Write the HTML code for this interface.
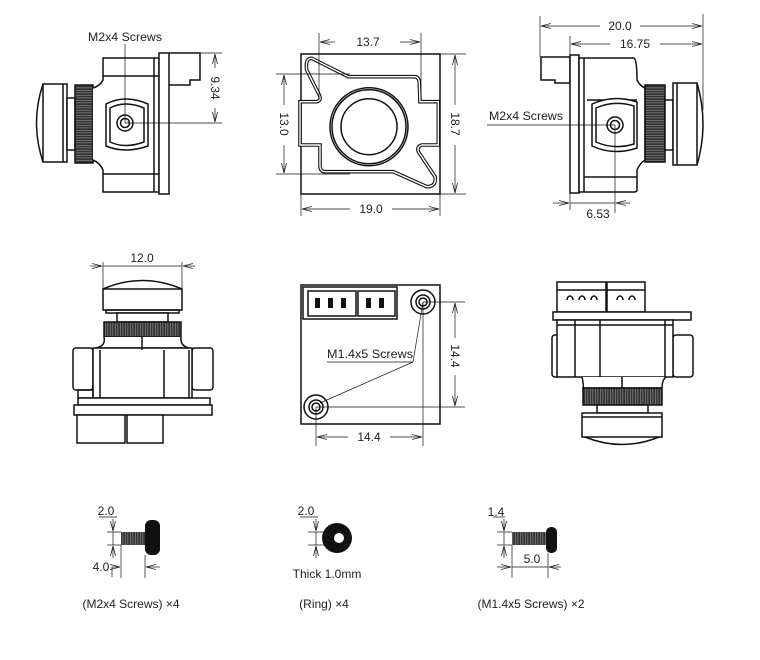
<!DOCTYPE html>
<html><head><meta charset="utf-8"><style>
html,body{margin:0;padding:0;background:#fff}
svg{display:block}
text{font-family:"Liberation Sans",sans-serif;font-size:12px;fill:#222}
</style></head><body>
<svg width="760" height="660" viewBox="0 0 760 660" xmlns="http://www.w3.org/2000/svg">
<defs>
<marker id="a" markerWidth="10" markerHeight="6" refX="10" refY="3" orient="auto" markerUnits="userSpaceOnUse"><path d="M0,0.5 L10,3 L0,5.5" fill="none" stroke="#222" stroke-width="0.8"/></marker>
<pattern id="kv" width="2.5" height="10" patternUnits="userSpaceOnUse"><rect width="2.5" height="10" fill="#333"/><rect width="0.7" height="10" fill="#888"/></pattern>
<pattern id="kh" width="10" height="2.5" patternUnits="userSpaceOnUse"><rect width="10" height="2.5" fill="#333"/><rect width="10" height="0.7" fill="#888"/></pattern>
</defs>
<g fill="none" stroke="#111" stroke-width="1.5">

<!-- ===== Top-left side view ===== -->
<path d="M43,84 Q30,123 43,162" />
<rect x="43" y="84" width="24" height="78" fill="#fff"/>
<line x1="63" y1="84" x2="63" y2="162"/>
<rect x="67" y="98" width="8" height="52" fill="#fff"/>
<rect x="75" y="85" width="18" height="78" fill="url(#kh)"/>
<path d="M93,88 Q100,86 103,80 L103,58 L159,58 L159,192 L103,192 L103,170 Q100,163 93,160" fill="#fff"/>
<line x1="103" y1="76" x2="159" y2="76"/><line x1="103" y1="174" x2="159" y2="174"/>
<line x1="154" y1="58" x2="154" y2="192"/>
<path d="M106,104 Q125,94 148,104 L148,146 Q125,154 106,146 Z" fill="#fff"/>
<path d="M110,108 Q125,100 144,108 L144,142 Q125,149 110,142 Z"/>
<rect x="159" y="53" width="10" height="141" fill="#fff"/>
<path d="M169,53 L200,53 L200,80 L190,80 L190,85 L169,85"/>
<circle cx="125" cy="123" r="8"/><circle cx="125" cy="123" r="4.5"/>
<g stroke-width="0.7">
<line x1="125" y1="44" x2="125" y2="123"/>
<line x1="200" y1="53" x2="222" y2="53"/><line x1="125" y1="123" x2="222" y2="123"/>
<line x1="215" y1="68" x2="215" y2="54" marker-end="url(#a)"/><line x1="215" y1="108" x2="215" y2="122" marker-end="url(#a)"/>
</g>

<!-- ===== Top-middle front ===== -->
<rect x="301" y="54" width="139" height="140"/>
<path d="M311.7,58.3 L348.3,76.7 L415,76.7 Q419.3,77.3 419.3,83.3 L420,101.7 L438.3,101.7 L438.3,145 L421.7,145 Q416.7,146.7 418.3,151.7 L435,176.7 Q436.7,186.7 426.7,186.7 L393.3,171.7 L325,171.7 Q320.7,171.7 320,166.7 L320,145 L300,145 L300,101.7 L316.7,101.7 Q321.7,100.7 319.3,95 L306.7,70 Q305,58.3 311.7,58.3 Z" stroke-width="3.6"/>
<path d="M311.7,58.3 L348.3,76.7 L415,76.7 Q419.3,77.3 419.3,83.3 L420,101.7 L438.3,101.7 L438.3,145 L421.7,145 Q416.7,146.7 418.3,151.7 L435,176.7 Q436.7,186.7 426.7,186.7 L393.3,171.7 L325,171.7 Q320.7,171.7 320,166.7 L320,145 L300,145 L300,101.7 L316.7,101.7 Q321.7,100.7 319.3,95 L306.7,70 Q305,58.3 311.7,58.3 Z" stroke="#fff" stroke-width="1.4"/>
<circle cx="369" cy="126.7" r="39"/><circle cx="369" cy="126.7" r="37"/><circle cx="369" cy="126.7" r="28"/>
<g stroke-width="0.7">
<line x1="319" y1="33" x2="319" y2="100"/><line x1="421" y1="33" x2="421" y2="100"/>
<line x1="335" y1="42" x2="320" y2="42" marker-end="url(#a)"/><line x1="400" y1="42" x2="420" y2="42" marker-end="url(#a)"/>
<line x1="276" y1="74" x2="350" y2="74"/><line x1="276" y1="174" x2="350" y2="174"/>
<line x1="284" y1="105" x2="284" y2="75" marker-end="url(#a)"/><line x1="284" y1="145" x2="284" y2="173" marker-end="url(#a)"/>
<line x1="440" y1="54" x2="466" y2="54"/><line x1="440" y1="194" x2="466" y2="194"/>
<line x1="455" y1="105" x2="455" y2="55" marker-end="url(#a)"/><line x1="455" y1="145" x2="455" y2="193" marker-end="url(#a)"/>
<line x1="301" y1="194" x2="301" y2="216"/><line x1="440" y1="194" x2="440" y2="216"/>
<line x1="350" y1="209" x2="302" y2="209" marker-end="url(#a)"/><line x1="392" y1="209" x2="439" y2="209" marker-end="url(#a)"/>
</g>

<!-- ===== Top-right side view ===== -->
<path d="M541,57 L570,57 L570,83 L555,83 L555,80 L541,80 Z" fill="#fff"/>
<rect x="570" y="55" width="9" height="138" fill="#fff"/>
<path d="M579,58 L634,58 Q637,60 637,80 Q640,86 645,88 L645,160 Q640,163 637,170 L637,190 Q637,192 634,192 L579,192 Z" fill="#fff"/>
<line x1="584" y1="58" x2="584" y2="192"/>
<line x1="587" y1="100" x2="637" y2="100"/><line x1="584" y1="177" x2="637" y2="177"/>
<path d="M592,104 Q614,94 637,102 L637,148 Q614,156 592,146 Z" fill="#fff"/>
<path d="M596,108 Q614,100 634,106 L634,144 Q614,150 596,142 Z"/>
<rect x="645" y="85" width="20" height="77" fill="url(#kh)"/>
<rect x="665" y="100" width="8" height="50" fill="#fff"/>
<rect x="673" y="83" width="24" height="82" fill="#fff"/>
<line x1="677" y1="83" x2="677" y2="165"/>
<path d="M697,83 Q709,124 697,165"/>
<circle cx="615" cy="125" r="8"/><circle cx="615" cy="125" r="4.5"/>
<g stroke-width="0.7">
<line x1="487" y1="125" x2="615" y2="125"/>
<line x1="540" y1="16" x2="540" y2="57"/><line x1="703" y1="14" x2="703" y2="110"/><line x1="570" y1="36" x2="570" y2="55"/>
<line x1="600" y1="26" x2="541" y2="26" marker-end="url(#a)"/><line x1="640" y1="26" x2="702" y2="26" marker-end="url(#a)"/>
<line x1="610" y1="44" x2="571" y2="44" marker-end="url(#a)"/><line x1="660" y1="44" x2="702" y2="44" marker-end="url(#a)"/>
<line x1="570" y1="193" x2="570" y2="210"/><line x1="615" y1="125" x2="615" y2="213"/>
<line x1="553" y1="203" x2="569" y2="203" marker-end="url(#a)"/><line x1="630" y1="203" x2="616" y2="203" marker-end="url(#a)"/>
<line x1="570" y1="203" x2="615" y2="203"/>
</g>

<!-- ===== Middle-left top view ===== -->
<path d="M103,289 Q142,272 182,289" fill="#fff"/>
<rect x="103" y="289" width="79" height="21" fill="#fff"/>
<rect x="106" y="310" width="73" height="3"/>
<rect x="117" y="313" width="51" height="9" fill="#fff"/>
<rect x="104" y="322" width="77" height="15" fill="url(#kv)"/>
<path d="M104,337 Q106,346 96,348 L189,348 Q180,346 181,337" fill="#fff"/>
<rect x="73" y="348" width="20" height="42" rx="3" fill="#fff"/>
<rect x="192" y="348" width="21" height="42" rx="3" fill="#fff"/>
<rect x="93" y="348" width="99" height="50" fill="#fff"/>
<line x1="100" y1="350" x2="100" y2="398"/><line x1="164" y1="350" x2="164" y2="398"/><line x1="189" y1="350" x2="189" y2="398"/>
<line x1="142" y1="337" x2="142" y2="350"/>
<rect x="78" y="390" width="15" height="8"/>
<rect x="78" y="398" width="132" height="7" fill="#fff"/>
<rect x="74" y="405" width="138" height="10" fill="#fff"/>
<rect x="77" y="415" width="48" height="28" fill="#fff"/>
<rect x="127" y="415" width="36" height="28" fill="#fff"/>
<g stroke-width="0.7">
<line x1="103" y1="262" x2="103" y2="289"/><line x1="182" y1="262" x2="182" y2="289"/>
<line x1="103" y1="266" x2="182" y2="266"/>
<line x1="90" y1="266" x2="102" y2="266" marker-end="url(#a)"/><line x1="195" y1="266" x2="183" y2="266" marker-end="url(#a)"/>
</g>

<!-- ===== Middle-center back ===== -->
<rect x="301" y="285" width="139" height="139" fill="#fff"/>
<rect x="303" y="287" width="94" height="32"/>
<rect x="308" y="291" width="48" height="25"/><rect x="358" y="291" width="37" height="25"/>
<g fill="#111" stroke="none">
<rect x="315" y="298" width="5" height="10"/><rect x="328" y="298" width="5" height="10"/><rect x="341" y="298" width="5" height="10"/>
<rect x="366" y="298" width="5" height="10"/><rect x="379" y="298" width="5" height="10"/>
</g>
<circle cx="423" cy="302" r="12"/><circle cx="423" cy="302" r="7"/><circle cx="423" cy="302" r="4"/>
<circle cx="316" cy="407" r="12"/><circle cx="316" cy="407" r="7"/><circle cx="316" cy="407" r="4"/>
<g stroke-width="0.7">
<line x1="327" y1="362" x2="413" y2="362"/>
<line x1="413" y1="362" x2="423" y2="302"/><line x1="413" y1="362" x2="320" y2="403"/>
<line x1="423" y1="302" x2="465" y2="302"/><line x1="316" y1="407" x2="465" y2="407"/>
<line x1="455" y1="338" x2="455" y2="303" marker-end="url(#a)"/><line x1="455" y1="375" x2="455" y2="406" marker-end="url(#a)"/>
<line x1="316" y1="407" x2="316" y2="446"/><line x1="423" y1="302" x2="423" y2="446"/>
<line x1="348" y1="437" x2="317" y2="437" marker-end="url(#a)"/><line x1="390" y1="437" x2="422" y2="437" marker-end="url(#a)"/>
</g>

<!-- ===== Middle-right bottom view ===== -->
<rect x="557" y="282" width="49" height="30" fill="#fff"/>
<rect x="607" y="282" width="38" height="30" fill="#fff"/>
<line x1="557" y1="290" x2="606" y2="290"/><line x1="607" y1="290" x2="645" y2="290"/>
<path d="M567,300 a3,4 0 0 1 6,0 M579,300 a3,4 0 0 1 6,0 M591,300 a3,4 0 0 1 6,0 M617,300 a3,4 0 0 1 6,0 M629,300 a3,4 0 0 1 6,0"/>
<rect x="553" y="312" width="138" height="8" fill="#fff"/>
<rect x="552" y="335" width="8" height="42" rx="3" fill="#fff"/>
<rect x="673" y="335" width="20" height="42" rx="3" fill="#fff"/>
<rect x="557" y="320" width="116" height="57" fill="#fff"/>
<line x1="575" y1="320" x2="575" y2="377"/><line x1="600" y1="320" x2="600" y2="377"/><line x1="665" y1="320" x2="665" y2="377"/>
<line x1="557" y1="325" x2="673" y2="325"/>
<path d="M582,377 Q584,386 583,388 L662,388 Q662,380 666,377" fill="#fff"/>
<line x1="622" y1="377" x2="622" y2="388"/>
<rect x="583" y="388" width="79" height="17" fill="url(#kv)"/>
<rect x="597" y="405" width="51" height="8" fill="#fff"/>
<rect x="582" y="413" width="80" height="24" fill="#fff"/>
<line x1="582" y1="417" x2="662" y2="417"/>
<path d="M585,437 Q622,452 659,437"/>

<!-- ===== Bottom row ===== -->
<rect x="121" y="532" width="25" height="13" fill="url(#kv)" stroke="none"/>
<rect x="145" y="520" width="15" height="35" rx="6" fill="#111" stroke="none"/>
<circle cx="337" cy="538" r="15" fill="#111" stroke="none"/>
<ellipse cx="339" cy="538" rx="5" ry="5" fill="#fff" stroke="none"/>
<rect x="512" y="532" width="37" height="13" fill="url(#kv)" stroke="none"/>
<rect x="546" y="527" width="11" height="26" rx="5" fill="#111" stroke="none"/>
<g stroke-width="0.7">
<line x1="99" y1="517" x2="117" y2="517"/>
<line x1="107" y1="532" x2="121" y2="532"/><line x1="107" y1="545" x2="121" y2="545"/>
<line x1="113" y1="519" x2="113" y2="531" marker-end="url(#a)"/><line x1="113" y1="558" x2="113" y2="546" marker-end="url(#a)"/>
<line x1="113" y1="532" x2="113" y2="545"/>
<line x1="121" y1="545" x2="121" y2="578"/><line x1="145" y1="555" x2="145" y2="578"/>
<line x1="112" y1="567" x2="120" y2="567" marker-end="url(#a)"/><line x1="160" y1="567" x2="146" y2="567" marker-end="url(#a)"/>
<line x1="112" y1="567" x2="112" y2="577"/>

<line x1="300" y1="517" x2="318" y2="517"/>
<line x1="308" y1="532" x2="324" y2="532"/><line x1="308" y1="545" x2="324" y2="545"/>
<line x1="316" y1="519" x2="316" y2="531" marker-end="url(#a)"/><line x1="316" y1="558" x2="316" y2="546" marker-end="url(#a)"/>
<line x1="316" y1="532" x2="316" y2="545"/>

<line x1="493" y1="517" x2="505" y2="517"/>
<line x1="497" y1="532" x2="512" y2="532"/><line x1="497" y1="545" x2="512" y2="545"/>
<line x1="504" y1="519" x2="504" y2="531" marker-end="url(#a)"/><line x1="504" y1="558" x2="504" y2="546" marker-end="url(#a)"/>
<line x1="504" y1="532" x2="504" y2="545"/>
<line x1="512" y1="545" x2="512" y2="578"/><line x1="548" y1="553" x2="548" y2="578"/>
<line x1="497" y1="567" x2="511" y2="567" marker-end="url(#a)"/><line x1="561" y1="567" x2="549" y2="567" marker-end="url(#a)"/>
<line x1="512" y1="567" x2="548" y2="567"/>
</g>
</g>

<!-- ===== Text ===== -->
<text x="125" y="41" text-anchor="middle" textLength="74" lengthAdjust="spacingAndGlyphs">M2x4 Screws</text>
<text transform="translate(211,88) rotate(90)" text-anchor="middle">9.34</text>
<text x="368" y="46" text-anchor="middle">13.7</text>
<text transform="translate(280,124) rotate(90)" text-anchor="middle">13.0</text>
<text transform="translate(451,124) rotate(90)" text-anchor="middle">18.7</text>
<text x="371" y="213" text-anchor="middle">19.0</text>
<text x="620" y="30" text-anchor="middle">20.0</text>
<text x="635" y="48" text-anchor="middle">16.75</text>
<text x="489" y="120" textLength="74" lengthAdjust="spacingAndGlyphs">M2x4 Screws</text>
<text x="598" y="218" text-anchor="middle">6.53</text>
<text x="142" y="262" text-anchor="middle">12.0</text>
<text x="327" y="358" textLength="86" lengthAdjust="spacingAndGlyphs">M1.4x5 Screws</text>
<text transform="translate(451,356) rotate(90)" text-anchor="middle">14.4</text>
<text x="369" y="441" text-anchor="middle">14.4</text>
<text x="106" y="515" text-anchor="middle">2.0</text>
<text x="101" y="571" text-anchor="middle">4.0</text>
<text x="306" y="515" text-anchor="middle">2.0</text>
<text x="327" y="578" text-anchor="middle">Thick 1.0mm</text>
<text x="496" y="516" text-anchor="middle">1.4</text>
<text x="532" y="563" text-anchor="middle">5.0</text>
<text x="131" y="608" text-anchor="middle">(M2x4 Screws) ×4</text>
<text x="324" y="608" text-anchor="middle">(Ring) ×4</text>
<text x="531" y="608" text-anchor="middle">(M1.4x5 Screws) ×2</text>
</svg>
</body></html>
